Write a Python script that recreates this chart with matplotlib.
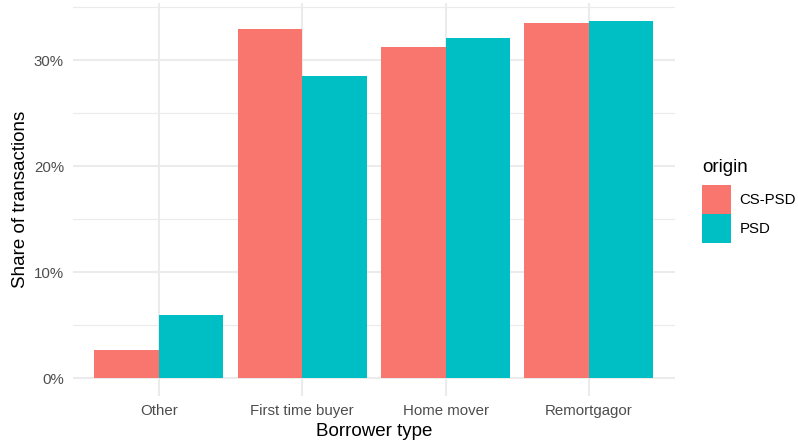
import matplotlib
matplotlib.use("Agg")
import matplotlib.pyplot as plt
import numpy as np
from matplotlib.patches import Patch
from matplotlib.ticker import FuncFormatter, MultipleLocator

# Share of transactions by borrower type, split by data origin
categories = ["Other", "First time buyer", "Home mover", "Remortgagor"]
series_names = ["CS-PSD", "PSD"]
cs_psd = [2.65, 32.9, 31.2, 33.45]
psd = [5.95, 28.5, 32.1, 33.68]
colors = ["#F8766D", "#00BFC4"]

plt.rcParams["font.family"] = ["Liberation Sans", "DejaVu Sans"]

fig = plt.figure(figsize=(7.98, 4.44), dpi=100)
W, H = 798, 444
ax = fig.add_axes([72.7 / W, (H - 396.1) / H, (675 - 72.7) / W, (396.1 - 3.1) / H])

x = np.arange(len(categories))
width = 0.45
ax.bar(x - width / 2, cs_psd, width, color=colors[0], zorder=3, linewidth=0)
ax.bar(x + width / 2, psd, width, color=colors[1], zorder=3, linewidth=0)

# ggplot-like expansion
ymax = max(max(cs_psd), max(psd))
ax.set_ylim(-0.05 * ymax, 1.05 * ymax)
ax.set_xlim(-0.6, len(categories) - 0.4)

ax.yaxis.set_major_locator(MultipleLocator(10))
ax.yaxis.set_minor_locator(MultipleLocator(5))
ax.yaxis.set_major_formatter(FuncFormatter(lambda v, p: f"{v:.0f}%"))
ax.set_xticks(x)
ax.set_xticklabels(categories)

grid_c = "#EBEBEB"
ax.grid(True, which="major", axis="both", color=grid_c, linewidth=1.5, zorder=0)
ax.grid(True, which="minor", axis="y", color=grid_c, linewidth=0.8, zorder=0)
for s in ax.spines.values():
    s.set_visible(False)
ax.tick_params(axis="both", which="both", length=0, labelsize=10.8,
               labelcolor="#4D4D4D")
ax.tick_params(axis="y", pad=6.3)
ax.tick_params(axis="x", pad=6)

ax.set_xlabel("Borrower type", fontsize=13.5, color="black", labelpad=3)
ax.set_ylabel("Share of transactions", fontsize=13.5, color="black", labelpad=3.5)

# legend: title as its own text, keys stacked directly below
fig.text(702 / W, 1 - 167 / H, "origin", fontsize=13.5, ha="left", va="center")
handles = [Patch(facecolor=c, edgecolor="none", label=n) for c, n in zip(colors, series_names)]
leg = fig.legend(handles=handles, loc="upper left",
                 bbox_to_anchor=(702 / W, 1 - 185.5 / H), frameon=False,
                 fontsize=10.8, handlelength=1.9,
                 handleheight=2.55, labelspacing=0.0, handletextpad=0.6,
                 borderaxespad=0, borderpad=0)

fig.savefig("out.png", dpi=100, facecolor="white")
